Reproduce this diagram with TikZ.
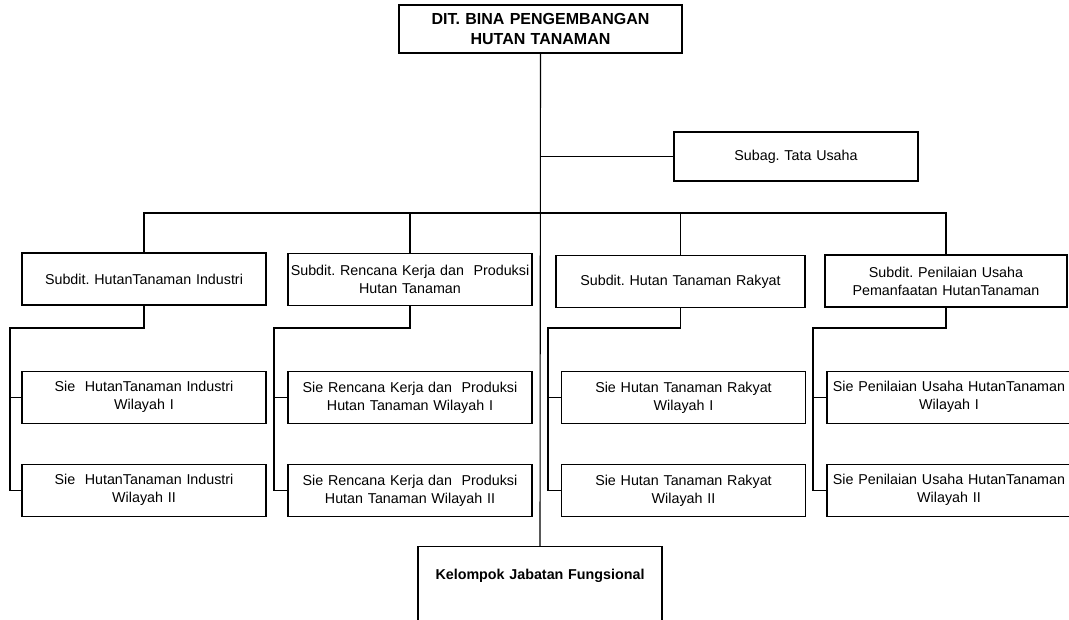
\documentclass[tikz,border=0pt]{standalone}
\usepackage{fontspec}
\setmainfont{Liberation Sans}
\frenchspacing
\usetikzlibrary{positioning}
\tikzset{
  unitbox/.style={rectangle, draw=black, line width=1.1pt,
    text width=244pt, inner xsep=0pt, inner ysep=0pt, align=center,
    minimum height=52pt, font=\fontsize{14.3}{18}\selectfont},
  headbox/.style={unitbox, text width=283pt, minimum height=48pt,
    font=\fontsize{16}{20}\selectfont\bfseries},
  siebox/.style={unitbox, minimum height=52pt},
  fungbox/.style={unitbox, text height=33pt, text depth=80pt,
    font=\fontsize{14.3}{18}\selectfont\bfseries},
  line/.style={line width=1.1pt, color=black}
}

\begin{document}
\begin{tikzpicture}[x=1pt, y=-1pt]
  \useasboundingbox (0,0) rectangle (1069,619);

  \node[headbox] (dit) at (540.5,29) {DIT. BINA PENGEMBANGAN\\HUTAN TANAMAN};
  \node[unitbox, minimum height=49pt] (subag) at (796,156.5) {Subag. Tata Usaha};

  % subdit row
  \node[unitbox] (sub1) at (144,279) {Subdit. HutanTanaman Industri};
  \node[unitbox] (sub2) at (410,279.5) {Subdit. Rencana Kerja dan~ Produksi\\Hutan Tanaman};
  \node[unitbox, text width=249pt] (sub3) at (680.5,281.5) {Subdit. Hutan Tanaman Rakyat};
  \node[unitbox, text width=242pt] (sub4) at (946,281) {Subdit. Penilaian Usaha\\Pemanfaatan HutanTanaman};

  % sie rows
  \node[siebox, below=65pt of sub1] (sie1a) {Sie~ HutanTanaman Industri\\Wilayah I};
  \node[siebox, below=40pt of sie1a] (sie1b) {Sie~ HutanTanaman Industri\\Wilayah II};
  \node[siebox, below=65pt of sub2] (sie2a) {Sie Rencana Kerja dan~ Produksi\\Hutan Tanaman Wilayah I};
  \node[siebox, below=40pt of sie2a] (sie2b) {Sie Rencana Kerja dan~ Produksi\\Hutan Tanaman Wilayah II};
  \node[siebox, below=63pt of sub3, xshift=3pt] (sie3a) {Sie Hutan Tanaman Rakyat\\Wilayah I};
  \node[siebox, below=40pt of sie3a] (sie3b) {Sie Hutan Tanaman Rakyat\\Wilayah II};
  \node[siebox, below=63pt of sub4, xshift=3pt] (sie4a) {Sie Penilaian Usaha HutanTanaman\\Wilayah I};
  \node[siebox, below=40pt of sie4a] (sie4b) {Sie Penilaian Usaha HutanTanaman\\Wilayah II};

  \node[fungbox, anchor=north] (kjf) at (540,546) {Kelompok Jabatan Fungsional};

  \coordinate (bus) at (540,213);
  \coordinate (br1) at (10,328);
  \coordinate (br2) at (274,328);
  \coordinate (br3) at (548,328);
  \coordinate (br4) at (813,328);

  \draw[line] (dit.south) -- (kjf.north);
  \draw[line] (subag.west) -- (subag.west -| dit.south);
  \draw[line] (sub1.north) |- (bus) -| (sub4.north);
  \draw[line] (bus) -| (sub2.north);
  \draw[line] (bus) -| (sub3.north);

  \draw[line] (sub1.south) |- (br1) |- (sie1b.west);
  \draw[line] (br1) |- (sie1a.west);
  \draw[line] (sub2.south) |- (br2) |- (sie2b.west);
  \draw[line] (br2) |- (sie2a.west);
  \draw[line] (sub3.south) |- (br3) |- (sie3b.west);
  \draw[line] (br3) |- (sie3a.west);
  \draw[line] (sub4.south) |- (br4) |- (sie4b.west);
  \draw[line] (br4) |- (sie4a.west);
\end{tikzpicture}
\end{document}
